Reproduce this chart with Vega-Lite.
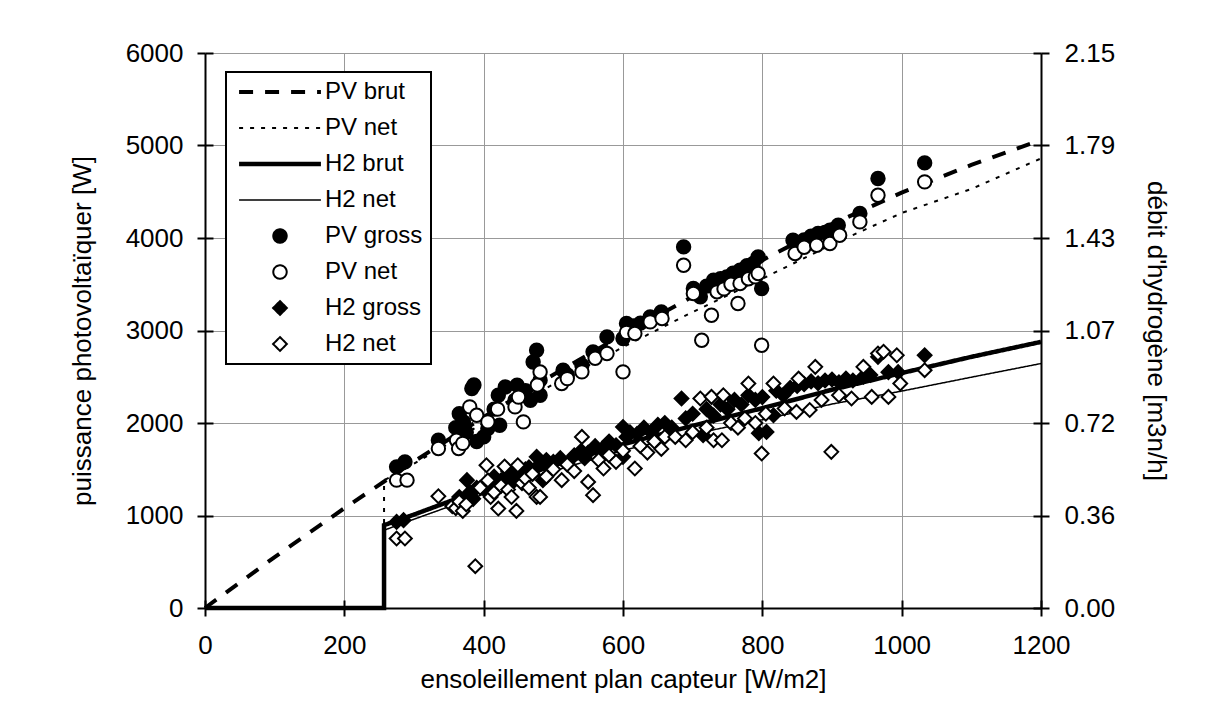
{
  "$schema": "https://vega.github.io/schema/vega-lite/v6.json",
  "width": 836,
  "height": 555,
  "autosize": {"type": "none"},
  "padding": {"left": 205, "top": 53, "right": 180, "bottom": 118},
  "background": "white",
  "datasets": {
    "lines": [
      {"g": "PV", "s": "PV brut", "k": 1, "x": 0, "y": 0},
      {"g": "PV", "s": "PV brut", "k": 2, "x": 100, "y": 551},
      {"g": "PV", "s": "PV brut", "k": 3, "x": 200, "y": 1079},
      {"g": "PV", "s": "PV brut", "k": 4, "x": 300, "y": 1584},
      {"g": "PV", "s": "PV brut", "k": 5, "x": 400, "y": 2064},
      {"g": "PV", "s": "PV brut", "k": 6, "x": 500, "y": 2522},
      {"g": "PV", "s": "PV brut", "k": 7, "x": 600, "y": 2956},
      {"g": "PV", "s": "PV brut", "k": 8, "x": 700, "y": 3367},
      {"g": "PV", "s": "PV brut", "k": 9, "x": 800, "y": 3760},
      {"g": "PV", "s": "PV brut", "k": 10, "x": 900, "y": 4150},
      {"g": "PV", "s": "PV brut", "k": 11, "x": 1000, "y": 4490},
      {"g": "PV", "s": "PV brut", "k": 12, "x": 1100, "y": 4790},
      {"g": "PV", "s": "PV brut", "k": 13, "x": 1200, "y": 5060},
      {"g": "PV", "s": "PV net ", "k": 1, "x": 0, "y": 0},
      {"g": "PV", "s": "PV net ", "k": 2, "x": 257, "y": 0},
      {"g": "PV", "s": "PV net ", "k": 3, "x": 257, "y": 1380},
      {"g": "PV", "s": "PV net ", "k": 4, "x": 300, "y": 1560},
      {"g": "PV", "s": "PV net ", "k": 5, "x": 400, "y": 2000},
      {"g": "PV", "s": "PV net ", "k": 6, "x": 500, "y": 2420},
      {"g": "PV", "s": "PV net ", "k": 7, "x": 600, "y": 2820},
      {"g": "PV", "s": "PV net ", "k": 8, "x": 700, "y": 3200},
      {"g": "PV", "s": "PV net ", "k": 9, "x": 800, "y": 3560},
      {"g": "PV", "s": "PV net ", "k": 10, "x": 900, "y": 3930},
      {"g": "PV", "s": "PV net ", "k": 11, "x": 1000, "y": 4270},
      {"g": "PV", "s": "PV net ", "k": 12, "x": 1100, "y": 4530},
      {"g": "PV", "s": "PV net ", "k": 13, "x": 1200, "y": 4860},
      {"g": "H2", "s": "H2 brut", "k": 1, "x": 0, "y": 0},
      {"g": "H2", "s": "H2 brut", "k": 2, "x": 257, "y": 0},
      {"g": "H2", "s": "H2 brut", "k": 3, "x": 257, "y": 895},
      {"g": "H2", "s": "H2 brut", "k": 4, "x": 300, "y": 1010},
      {"g": "H2", "s": "H2 brut", "k": 5, "x": 400, "y": 1290},
      {"g": "H2", "s": "H2 brut", "k": 6, "x": 500, "y": 1540},
      {"g": "H2", "s": "H2 brut", "k": 7, "x": 600, "y": 1770},
      {"g": "H2", "s": "H2 brut", "k": 8, "x": 700, "y": 1970},
      {"g": "H2", "s": "H2 brut", "k": 9, "x": 800, "y": 2160},
      {"g": "H2", "s": "H2 brut", "k": 10, "x": 900, "y": 2360},
      {"g": "H2", "s": "H2 brut", "k": 11, "x": 1000, "y": 2540},
      {"g": "H2", "s": "H2 brut", "k": 12, "x": 1100, "y": 2715},
      {"g": "H2", "s": "H2 brut", "k": 13, "x": 1200, "y": 2877},
      {"g": "H2", "s": "H2 net ", "k": 1, "x": 0, "y": 0},
      {"g": "H2", "s": "H2 net ", "k": 2, "x": 257, "y": 0},
      {"g": "H2", "s": "H2 net ", "k": 3, "x": 257, "y": 841},
      {"g": "H2", "s": "H2 net ", "k": 4, "x": 300, "y": 960},
      {"g": "H2", "s": "H2 net ", "k": 5, "x": 400, "y": 1230},
      {"g": "H2", "s": "H2 net ", "k": 6, "x": 500, "y": 1480},
      {"g": "H2", "s": "H2 net ", "k": 7, "x": 600, "y": 1705},
      {"g": "H2", "s": "H2 net ", "k": 8, "x": 700, "y": 1880},
      {"g": "H2", "s": "H2 net ", "k": 9, "x": 800, "y": 2035},
      {"g": "H2", "s": "H2 net ", "k": 10, "x": 900, "y": 2205},
      {"g": "H2", "s": "H2 net ", "k": 11, "x": 1000, "y": 2345},
      {"g": "H2", "s": "H2 net ", "k": 12, "x": 1100, "y": 2495},
      {"g": "H2", "s": "H2 net ", "k": 13, "x": 1200, "y": 2643}
    ],
    "pts": [
      {"g": "PV", "s": "PV gross", "x": 275, "y": 1526},
      {"g": "PV", "s": "PV gross", "x": 287, "y": 1580},
      {"g": "PV", "s": "PV gross", "x": 335, "y": 1814},
      {"g": "PV", "s": "PV gross", "x": 360, "y": 1950},
      {"g": "PV", "s": "PV gross", "x": 365, "y": 2100},
      {"g": "PV", "s": "PV gross", "x": 371, "y": 2012},
      {"g": "PV", "s": "PV gross", "x": 375, "y": 1900},
      {"g": "PV", "s": "PV gross", "x": 383, "y": 2373},
      {"g": "PV", "s": "PV gross", "x": 386, "y": 2410},
      {"g": "PV", "s": "PV gross", "x": 390, "y": 1800},
      {"g": "PV", "s": "PV gross", "x": 400, "y": 1850},
      {"g": "PV", "s": "PV gross", "x": 406, "y": 1941},
      {"g": "PV", "s": "PV gross", "x": 415, "y": 2150},
      {"g": "PV", "s": "PV gross", "x": 421, "y": 2300},
      {"g": "PV", "s": "PV gross", "x": 423, "y": 1976},
      {"g": "PV", "s": "PV gross", "x": 431, "y": 2390},
      {"g": "PV", "s": "PV gross", "x": 445, "y": 2246},
      {"g": "PV", "s": "PV gross", "x": 448, "y": 2409},
      {"g": "PV", "s": "PV gross", "x": 460, "y": 2350},
      {"g": "PV", "s": "PV gross", "x": 467, "y": 2246},
      {"g": "PV", "s": "PV gross", "x": 471, "y": 2660},
      {"g": "PV", "s": "PV gross", "x": 476, "y": 2787},
      {"g": "PV", "s": "PV gross", "x": 481, "y": 2463},
      {"g": "PV", "s": "PV gross", "x": 481, "y": 2300},
      {"g": "PV", "s": "PV gross", "x": 514, "y": 2571},
      {"g": "PV", "s": "PV gross", "x": 520, "y": 2520},
      {"g": "PV", "s": "PV gross", "x": 541, "y": 2625},
      {"g": "PV", "s": "PV gross", "x": 557, "y": 2769},
      {"g": "PV", "s": "PV gross", "x": 577, "y": 2931},
      {"g": "PV", "s": "PV gross", "x": 600, "y": 2913},
      {"g": "PV", "s": "PV gross", "x": 605, "y": 3076},
      {"g": "PV", "s": "PV gross", "x": 615, "y": 3050},
      {"g": "PV", "s": "PV gross", "x": 625, "y": 3080},
      {"g": "PV", "s": "PV gross", "x": 639, "y": 3147},
      {"g": "PV", "s": "PV gross", "x": 655, "y": 3201},
      {"g": "PV", "s": "PV gross", "x": 687, "y": 3904},
      {"g": "PV", "s": "PV gross", "x": 701, "y": 3454},
      {"g": "PV", "s": "PV gross", "x": 711, "y": 3364},
      {"g": "PV", "s": "PV gross", "x": 720, "y": 3480},
      {"g": "PV", "s": "PV gross", "x": 730, "y": 3544},
      {"g": "PV", "s": "PV gross", "x": 740, "y": 3560},
      {"g": "PV", "s": "PV gross", "x": 749, "y": 3580},
      {"g": "PV", "s": "PV gross", "x": 758, "y": 3620},
      {"g": "PV", "s": "PV gross", "x": 768, "y": 3652},
      {"g": "PV", "s": "PV gross", "x": 778, "y": 3700},
      {"g": "PV", "s": "PV gross", "x": 787, "y": 3724},
      {"g": "PV", "s": "PV gross", "x": 794, "y": 3796},
      {"g": "PV", "s": "PV gross", "x": 799, "y": 3454},
      {"g": "PV", "s": "PV gross", "x": 844, "y": 3976},
      {"g": "PV", "s": "PV gross", "x": 860, "y": 3980},
      {"g": "PV", "s": "PV gross", "x": 870, "y": 4020},
      {"g": "PV", "s": "PV gross", "x": 880, "y": 4050},
      {"g": "PV", "s": "PV gross", "x": 890, "y": 4060},
      {"g": "PV", "s": "PV gross", "x": 897, "y": 4084},
      {"g": "PV", "s": "PV gross", "x": 909, "y": 4138},
      {"g": "PV", "s": "PV gross", "x": 940, "y": 4265},
      {"g": "PV", "s": "PV gross", "x": 966, "y": 4643},
      {"g": "PV", "s": "PV gross", "x": 1033, "y": 4812},
      {"g": "PV", "s": "PV net", "x": 275, "y": 1382},
      {"g": "PV", "s": "PV net", "x": 290, "y": 1382},
      {"g": "PV", "s": "PV net", "x": 335, "y": 1724},
      {"g": "PV", "s": "PV net", "x": 361, "y": 1814},
      {"g": "PV", "s": "PV net", "x": 364, "y": 1724},
      {"g": "PV", "s": "PV net", "x": 370, "y": 1780},
      {"g": "PV", "s": "PV net", "x": 380, "y": 2174},
      {"g": "PV", "s": "PV net", "x": 390, "y": 2084},
      {"g": "PV", "s": "PV net", "x": 406, "y": 2012},
      {"g": "PV", "s": "PV net", "x": 420, "y": 2150},
      {"g": "PV", "s": "PV net", "x": 445, "y": 2174},
      {"g": "PV", "s": "PV net", "x": 450, "y": 2280},
      {"g": "PV", "s": "PV net", "x": 457, "y": 2012},
      {"g": "PV", "s": "PV net", "x": 477, "y": 2410},
      {"g": "PV", "s": "PV net", "x": 481, "y": 2552},
      {"g": "PV", "s": "PV net", "x": 512, "y": 2427},
      {"g": "PV", "s": "PV net", "x": 520, "y": 2480},
      {"g": "PV", "s": "PV net", "x": 541, "y": 2553},
      {"g": "PV", "s": "PV net", "x": 560, "y": 2700},
      {"g": "PV", "s": "PV net", "x": 577, "y": 2751},
      {"g": "PV", "s": "PV net", "x": 600, "y": 2553},
      {"g": "PV", "s": "PV net", "x": 605, "y": 2980},
      {"g": "PV", "s": "PV net", "x": 617, "y": 2968},
      {"g": "PV", "s": "PV net", "x": 639, "y": 3093},
      {"g": "PV", "s": "PV net", "x": 656, "y": 3129},
      {"g": "PV", "s": "PV net", "x": 687, "y": 3706},
      {"g": "PV", "s": "PV net", "x": 701, "y": 3400},
      {"g": "PV", "s": "PV net", "x": 713, "y": 2895},
      {"g": "PV", "s": "PV net", "x": 727, "y": 3165},
      {"g": "PV", "s": "PV net", "x": 735, "y": 3418},
      {"g": "PV", "s": "PV net", "x": 745, "y": 3450},
      {"g": "PV", "s": "PV net", "x": 755, "y": 3500},
      {"g": "PV", "s": "PV net", "x": 765, "y": 3292},
      {"g": "PV", "s": "PV net", "x": 768, "y": 3508},
      {"g": "PV", "s": "PV net", "x": 780, "y": 3560},
      {"g": "PV", "s": "PV net", "x": 790, "y": 3580},
      {"g": "PV", "s": "PV net", "x": 794, "y": 3616},
      {"g": "PV", "s": "PV net", "x": 799, "y": 2841},
      {"g": "PV", "s": "PV net", "x": 847, "y": 3832},
      {"g": "PV", "s": "PV net", "x": 860, "y": 3900},
      {"g": "PV", "s": "PV net", "x": 878, "y": 3922},
      {"g": "PV", "s": "PV net", "x": 897, "y": 3940},
      {"g": "PV", "s": "PV net", "x": 911, "y": 4030},
      {"g": "PV", "s": "PV net", "x": 940, "y": 4174},
      {"g": "PV", "s": "PV net", "x": 966, "y": 4462},
      {"g": "PV", "s": "PV net", "x": 1033, "y": 4607},
      {"g": "H2", "s": "H2 gross", "x": 275, "y": 931},
      {"g": "H2", "s": "H2 gross", "x": 285, "y": 950},
      {"g": "H2", "s": "H2 gross", "x": 360, "y": 1130},
      {"g": "H2", "s": "H2 gross", "x": 365, "y": 1200},
      {"g": "H2", "s": "H2 gross", "x": 370, "y": 1110},
      {"g": "H2", "s": "H2 gross", "x": 376, "y": 1382},
      {"g": "H2", "s": "H2 gross", "x": 380, "y": 1250},
      {"g": "H2", "s": "H2 gross", "x": 385, "y": 1180},
      {"g": "H2", "s": "H2 gross", "x": 390, "y": 1300},
      {"g": "H2", "s": "H2 gross", "x": 400, "y": 1290},
      {"g": "H2", "s": "H2 gross", "x": 405, "y": 1350},
      {"g": "H2", "s": "H2 gross", "x": 410, "y": 1250},
      {"g": "H2", "s": "H2 gross", "x": 415, "y": 1420},
      {"g": "H2", "s": "H2 gross", "x": 420, "y": 1300},
      {"g": "H2", "s": "H2 gross", "x": 425, "y": 1380},
      {"g": "H2", "s": "H2 gross", "x": 430, "y": 1390},
      {"g": "H2", "s": "H2 gross", "x": 435, "y": 1480},
      {"g": "H2", "s": "H2 gross", "x": 440, "y": 1350},
      {"g": "H2", "s": "H2 gross", "x": 445, "y": 1420},
      {"g": "H2", "s": "H2 gross", "x": 450, "y": 1460},
      {"g": "H2", "s": "H2 gross", "x": 455, "y": 1400},
      {"g": "H2", "s": "H2 gross", "x": 460, "y": 1500},
      {"g": "H2", "s": "H2 gross", "x": 465, "y": 1520},
      {"g": "H2", "s": "H2 gross", "x": 470, "y": 1450},
      {"g": "H2", "s": "H2 gross", "x": 476, "y": 1634},
      {"g": "H2", "s": "H2 gross", "x": 480, "y": 1550},
      {"g": "H2", "s": "H2 gross", "x": 485, "y": 1382},
      {"g": "H2", "s": "H2 gross", "x": 490, "y": 1600},
      {"g": "H2", "s": "H2 gross", "x": 500, "y": 1580},
      {"g": "H2", "s": "H2 gross", "x": 510, "y": 1620},
      {"g": "H2", "s": "H2 gross", "x": 520, "y": 1560},
      {"g": "H2", "s": "H2 gross", "x": 530, "y": 1650},
      {"g": "H2", "s": "H2 gross", "x": 540, "y": 1700},
      {"g": "H2", "s": "H2 gross", "x": 545, "y": 1620},
      {"g": "H2", "s": "H2 gross", "x": 550, "y": 1680},
      {"g": "H2", "s": "H2 gross", "x": 560, "y": 1750},
      {"g": "H2", "s": "H2 gross", "x": 570, "y": 1720},
      {"g": "H2", "s": "H2 gross", "x": 580, "y": 1800},
      {"g": "H2", "s": "H2 gross", "x": 590, "y": 1760},
      {"g": "H2", "s": "H2 gross", "x": 600, "y": 1634},
      {"g": "H2", "s": "H2 gross", "x": 600, "y": 1957},
      {"g": "H2", "s": "H2 gross", "x": 605, "y": 1850},
      {"g": "H2", "s": "H2 gross", "x": 610, "y": 1900},
      {"g": "H2", "s": "H2 gross", "x": 620, "y": 1880},
      {"g": "H2", "s": "H2 gross", "x": 630, "y": 1950},
      {"g": "H2", "s": "H2 gross", "x": 640, "y": 1900},
      {"g": "H2", "s": "H2 gross", "x": 650, "y": 1980},
      {"g": "H2", "s": "H2 gross", "x": 660, "y": 2000},
      {"g": "H2", "s": "H2 gross", "x": 670, "y": 1950},
      {"g": "H2", "s": "H2 gross", "x": 684, "y": 2265},
      {"g": "H2", "s": "H2 gross", "x": 690, "y": 2050},
      {"g": "H2", "s": "H2 gross", "x": 700, "y": 2100},
      {"g": "H2", "s": "H2 gross", "x": 715, "y": 1868},
      {"g": "H2", "s": "H2 gross", "x": 720, "y": 2150},
      {"g": "H2", "s": "H2 gross", "x": 730, "y": 2080},
      {"g": "H2", "s": "H2 gross", "x": 740, "y": 2200},
      {"g": "H2", "s": "H2 gross", "x": 750, "y": 2150},
      {"g": "H2", "s": "H2 gross", "x": 760, "y": 2250},
      {"g": "H2", "s": "H2 gross", "x": 770, "y": 2200},
      {"g": "H2", "s": "H2 gross", "x": 780, "y": 2300},
      {"g": "H2", "s": "H2 gross", "x": 790, "y": 2250},
      {"g": "H2", "s": "H2 gross", "x": 795, "y": 1890},
      {"g": "H2", "s": "H2 gross", "x": 800, "y": 2280},
      {"g": "H2", "s": "H2 gross", "x": 806, "y": 1904},
      {"g": "H2", "s": "H2 gross", "x": 816, "y": 2084},
      {"g": "H2", "s": "H2 gross", "x": 820, "y": 2350},
      {"g": "H2", "s": "H2 gross", "x": 830, "y": 2300},
      {"g": "H2", "s": "H2 gross", "x": 840, "y": 2380},
      {"g": "H2", "s": "H2 gross", "x": 850, "y": 2400},
      {"g": "H2", "s": "H2 gross", "x": 860, "y": 2420},
      {"g": "H2", "s": "H2 gross", "x": 870, "y": 2450},
      {"g": "H2", "s": "H2 gross", "x": 880, "y": 2430},
      {"g": "H2", "s": "H2 gross", "x": 890, "y": 2460},
      {"g": "H2", "s": "H2 gross", "x": 900, "y": 2470},
      {"g": "H2", "s": "H2 gross", "x": 910, "y": 2440},
      {"g": "H2", "s": "H2 gross", "x": 920, "y": 2480},
      {"g": "H2", "s": "H2 gross", "x": 930, "y": 2460},
      {"g": "H2", "s": "H2 gross", "x": 945, "y": 2500},
      {"g": "H2", "s": "H2 gross", "x": 955, "y": 2520},
      {"g": "H2", "s": "H2 gross", "x": 966, "y": 2715},
      {"g": "H2", "s": "H2 gross", "x": 981, "y": 2550},
      {"g": "H2", "s": "H2 gross", "x": 995, "y": 2550},
      {"g": "H2", "s": "H2 gross", "x": 1033, "y": 2733},
      {"g": "H2", "s": "H2 net", "x": 275, "y": 751},
      {"g": "H2", "s": "H2 net", "x": 287, "y": 751},
      {"g": "H2", "s": "H2 net", "x": 335, "y": 1208},
      {"g": "H2", "s": "H2 net", "x": 355, "y": 1100},
      {"g": "H2", "s": "H2 net", "x": 360, "y": 1080},
      {"g": "H2", "s": "H2 net", "x": 365, "y": 1150},
      {"g": "H2", "s": "H2 net", "x": 370, "y": 1050},
      {"g": "H2", "s": "H2 net", "x": 375, "y": 1120},
      {"g": "H2", "s": "H2 net", "x": 388, "y": 452},
      {"g": "H2", "s": "H2 net", "x": 395, "y": 1300},
      {"g": "H2", "s": "H2 net", "x": 404, "y": 1543},
      {"g": "H2", "s": "H2 net", "x": 406, "y": 1380},
      {"g": "H2", "s": "H2 net", "x": 410, "y": 1200},
      {"g": "H2", "s": "H2 net", "x": 415, "y": 1250},
      {"g": "H2", "s": "H2 net", "x": 421, "y": 1075},
      {"g": "H2", "s": "H2 net", "x": 425, "y": 1320},
      {"g": "H2", "s": "H2 net", "x": 430, "y": 1530},
      {"g": "H2", "s": "H2 net", "x": 435, "y": 1280},
      {"g": "H2", "s": "H2 net", "x": 440, "y": 1200},
      {"g": "H2", "s": "H2 net", "x": 447, "y": 1050},
      {"g": "H2", "s": "H2 net", "x": 449, "y": 1543},
      {"g": "H2", "s": "H2 net", "x": 455, "y": 1350},
      {"g": "H2", "s": "H2 net", "x": 460, "y": 1400},
      {"g": "H2", "s": "H2 net", "x": 465, "y": 1300},
      {"g": "H2", "s": "H2 net", "x": 470, "y": 1450},
      {"g": "H2", "s": "H2 net", "x": 476, "y": 1201},
      {"g": "H2", "s": "H2 net", "x": 481, "y": 1201},
      {"g": "H2", "s": "H2 net", "x": 490, "y": 1420},
      {"g": "H2", "s": "H2 net", "x": 500, "y": 1500},
      {"g": "H2", "s": "H2 net", "x": 512, "y": 1382},
      {"g": "H2", "s": "H2 net", "x": 520, "y": 1550},
      {"g": "H2", "s": "H2 net", "x": 530, "y": 1480},
      {"g": "H2", "s": "H2 net", "x": 541, "y": 1850},
      {"g": "H2", "s": "H2 net", "x": 550, "y": 1363},
      {"g": "H2", "s": "H2 net", "x": 557, "y": 1220},
      {"g": "H2", "s": "H2 net", "x": 565, "y": 1600},
      {"g": "H2", "s": "H2 net", "x": 572, "y": 1508},
      {"g": "H2", "s": "H2 net", "x": 580, "y": 1650},
      {"g": "H2", "s": "H2 net", "x": 590, "y": 1580},
      {"g": "H2", "s": "H2 net", "x": 600, "y": 1700},
      {"g": "H2", "s": "H2 net", "x": 617, "y": 1508},
      {"g": "H2", "s": "H2 net", "x": 625, "y": 1750},
      {"g": "H2", "s": "H2 net", "x": 635, "y": 1680},
      {"g": "H2", "s": "H2 net", "x": 645, "y": 1800},
      {"g": "H2", "s": "H2 net", "x": 655, "y": 1720},
      {"g": "H2", "s": "H2 net", "x": 660, "y": 1850},
      {"g": "H2", "s": "H2 net", "x": 675, "y": 1850},
      {"g": "H2", "s": "H2 net", "x": 690, "y": 1814},
      {"g": "H2", "s": "H2 net", "x": 700, "y": 1900},
      {"g": "H2", "s": "H2 net", "x": 711, "y": 2265},
      {"g": "H2", "s": "H2 net", "x": 720, "y": 1950},
      {"g": "H2", "s": "H2 net", "x": 727, "y": 2283},
      {"g": "H2", "s": "H2 net", "x": 730, "y": 1814},
      {"g": "H2", "s": "H2 net", "x": 742, "y": 1814},
      {"g": "H2", "s": "H2 net", "x": 744, "y": 2300},
      {"g": "H2", "s": "H2 net", "x": 755, "y": 2000},
      {"g": "H2", "s": "H2 net", "x": 765, "y": 1950},
      {"g": "H2", "s": "H2 net", "x": 775, "y": 2050},
      {"g": "H2", "s": "H2 net", "x": 780, "y": 2427},
      {"g": "H2", "s": "H2 net", "x": 790, "y": 2000},
      {"g": "H2", "s": "H2 net", "x": 799, "y": 1670},
      {"g": "H2", "s": "H2 net", "x": 805, "y": 2100},
      {"g": "H2", "s": "H2 net", "x": 816, "y": 2427},
      {"g": "H2", "s": "H2 net", "x": 832, "y": 2157},
      {"g": "H2", "s": "H2 net", "x": 849, "y": 2120},
      {"g": "H2", "s": "H2 net", "x": 852, "y": 2480},
      {"g": "H2", "s": "H2 net", "x": 868, "y": 2140},
      {"g": "H2", "s": "H2 net", "x": 876, "y": 2607},
      {"g": "H2", "s": "H2 net", "x": 885, "y": 2250},
      {"g": "H2", "s": "H2 net", "x": 899, "y": 1688},
      {"g": "H2", "s": "H2 net", "x": 910, "y": 2300},
      {"g": "H2", "s": "H2 net", "x": 928, "y": 2265},
      {"g": "H2", "s": "H2 net", "x": 945, "y": 2607},
      {"g": "H2", "s": "H2 net", "x": 957, "y": 2282},
      {"g": "H2", "s": "H2 net", "x": 966, "y": 2751},
      {"g": "H2", "s": "H2 net", "x": 974, "y": 2770},
      {"g": "H2", "s": "H2 net", "x": 981, "y": 2282},
      {"g": "H2", "s": "H2 net", "x": 993, "y": 2733},
      {"g": "H2", "s": "H2 net", "x": 998, "y": 2427},
      {"g": "H2", "s": "H2 net", "x": 1033, "y": 2571}
    ]
  },
  "resolve": {"axis": {"x": "independent", "y": "independent"}},
  "layer": [
    {
      "data": {"name": "lines"},
      "transform": [{"filter": {"field": "g", "equal": "PV"}}],
      "mark": {"type": "line", "strokeCap": "butt"},
      "encoding": {
        "x": {"field": "x", "type": "quantitative", "scale": {"domain": [0, 1200], "nice": false, "zero": false},
          "axis": {"orient": "bottom", "values": [0, 200, 400, 600, 800, 1000, 1200], "format": "d", "grid": true, "labelFlush": false, "labelPadding": 16, "titlePadding": 8, "title": "ensoleillement plan capteur [W/m2]"}},
        "y": {"field": "y", "type": "quantitative", "scale": {"domain": [0, 6000], "nice": false, "zero": false},
          "axis": {"orient": "left", "values": [0, 1000, 2000, 3000, 4000, 5000, 6000], "format": "d", "grid": true, "labelFlush": false, "labelPadding": 14, "titlePadding": 30, "title": "puissance photovoltaïquer [W]"}},
        "stroke": {"field": "s", "type": "nominal",
          "scale": {"domain": ["PV brut", "PV net ", "H2 brut", "H2 net ", "PV gross", "PV net", "H2 gross", "H2 net"], "range": ["black", "black", "black", "black", "black", "black", "black", "black"]},
          "legend": {"title": null, "orient": "none", "legendX": 21, "legendY": 19}},
        "strokeDash": {"field": "s", "type": "nominal",
          "scale": {"domain": ["PV brut", "PV net ", "H2 brut", "H2 net ", "PV gross", "PV net", "H2 gross", "H2 net"], "range": [[14, 12], [4, 7], [1, 0], [1, 0], [1, 0], [1, 0], [1, 0], [1, 0]]},
          "legend": {"title": null, "orient": "none", "legendX": 21, "legendY": 19}},
        "strokeWidth": {"field": "s", "type": "nominal",
          "scale": {"type": "ordinal", "domain": ["PV brut", "PV net ", "H2 brut", "H2 net ", "PV gross", "PV net", "H2 gross", "H2 net"], "range": [4, 2, 4.5, 1.5, 2, 2, 2, 2]},
          "legend": {"title": null, "orient": "none", "legendX": 21, "legendY": 19}},
        "order": {"field": "k", "type": "quantitative"}
      }
    },
    {
      "data": {"name": "lines"},
      "transform": [{"filter": {"field": "g", "equal": "H2"}}],
      "mark": {"type": "line", "strokeCap": "butt"},
      "encoding": {
        "x": {"field": "x", "type": "quantitative", "scale": {"domain": [0, 1200], "nice": false, "zero": false},
          "axis": {"orient": "bottom", "offset": -8, "values": [0, 200, 400, 600, 800, 1000, 1200], "domain": false, "labels": false, "grid": false, "title": null}},
        "y": {"field": "y", "type": "quantitative", "scale": {"domain": [0, 6000], "nice": false, "zero": false},
          "axis": {"orient": "left", "offset": -8, "values": [0, 1000, 2000, 3000, 4000, 5000, 6000], "domain": false, "labels": false, "grid": false, "title": null}},
        "stroke": {"field": "s", "type": "nominal",
          "scale": {"domain": ["PV brut", "PV net ", "H2 brut", "H2 net ", "PV gross", "PV net", "H2 gross", "H2 net"], "range": ["black", "black", "black", "black", "black", "black", "black", "black"]},
          "legend": {"title": null, "orient": "none", "legendX": 21, "legendY": 19}},
        "strokeDash": {"field": "s", "type": "nominal",
          "scale": {"domain": ["PV brut", "PV net ", "H2 brut", "H2 net ", "PV gross", "PV net", "H2 gross", "H2 net"], "range": [[14, 12], [4, 7], [1, 0], [1, 0], [1, 0], [1, 0], [1, 0], [1, 0]]},
          "legend": {"title": null, "orient": "none", "legendX": 21, "legendY": 19}},
        "strokeWidth": {"field": "s", "type": "nominal",
          "scale": {"type": "ordinal", "domain": ["PV brut", "PV net ", "H2 brut", "H2 net ", "PV gross", "PV net", "H2 gross", "H2 net"], "range": [4, 2, 4.5, 1.5, 2, 2, 2, 2]},
          "legend": {"title": null, "orient": "none", "legendX": 21, "legendY": 19}},
        "order": {"field": "k", "type": "quantitative"}
      }
    },
    {
      "data": {"name": "pts"},
      "transform": [{"filter": {"field": "g", "equal": "PV"}}],
      "mark": {"type": "point", "strokeWidth": 2, "opacity": 1},
      "encoding": {
        "x": {"field": "x", "type": "quantitative", "scale": {"domain": [0, 1200], "nice": false, "zero": false}, "axis": null},
        "y": {"field": "y", "type": "quantitative", "scale": {"domain": [0, 6000], "nice": false, "zero": false},
          "axis": {"orient": "right", "values": [0, 1000, 2000, 3000, 4000, 5000, 6000], "labelExpr": "['0.00','0.36','0.72','1.07','1.43','1.79','2.15'][round(datum.value/1000)]", "grid": false, "labelFlush": false, "labelPadding": 15, "titlePadding": 28, "title": "débit d'hydrogène [m3n/h]"}},
        "stroke": {"field": "s", "type": "nominal",
          "scale": {"domain": ["PV brut", "PV net ", "H2 brut", "H2 net ", "PV gross", "PV net", "H2 gross", "H2 net"], "range": ["black", "black", "black", "black", "black", "black", "black", "black"]},
          "legend": {"title": null, "orient": "none", "legendX": 21, "legendY": 19}},
        "shape": {"field": "s", "type": "nominal",
          "scale": {"domain": ["PV brut", "PV net ", "H2 brut", "H2 net ", "PV gross", "PV net", "H2 gross", "H2 net"], "range": ["M-6.1,0H6.1", "M-6.1,0H6.1", "M-6.1,0H6.1", "M-6.1,0H6.1", "circle", "circle", "diamond", "diamond"]},
          "legend": {"title": null, "orient": "none", "legendX": 21, "legendY": 19}},
        "fill": {"field": "s", "type": "nominal",
          "scale": {"domain": ["PV brut", "PV net ", "H2 brut", "H2 net ", "PV gross", "PV net", "H2 gross", "H2 net"], "range": ["black", "black", "black", "black", "black", "white", "black", "white"]},
          "legend": {"title": null, "orient": "none", "legendX": 21, "legendY": 19}},
        "size": {"field": "s", "type": "nominal",
          "scale": {"type": "ordinal", "domain": ["PV brut", "PV net ", "H2 brut", "H2 net ", "PV gross", "PV net", "H2 gross", "H2 net"], "range": [180, 180, 180, 180, 180, 180, 190, 190]},
          "legend": {"title": null, "orient": "none", "legendX": 21, "legendY": 19}}
      }
    },
    {
      "data": {"name": "pts"},
      "transform": [{"filter": {"field": "g", "equal": "H2"}}],
      "mark": {"type": "point", "strokeWidth": 2, "opacity": 1},
      "encoding": {
        "x": {"field": "x", "type": "quantitative", "scale": {"domain": [0, 1200], "nice": false, "zero": false}, "axis": null},
        "y": {"field": "y", "type": "quantitative", "scale": {"domain": [0, 6000], "nice": false, "zero": false},
          "axis": {"orient": "right", "offset": -8, "values": [0, 1000, 2000, 3000, 4000, 5000, 6000], "domain": false, "labels": false, "grid": false, "title": null}},
        "stroke": {"field": "s", "type": "nominal",
          "scale": {"domain": ["PV brut", "PV net ", "H2 brut", "H2 net ", "PV gross", "PV net", "H2 gross", "H2 net"], "range": ["black", "black", "black", "black", "black", "black", "black", "black"]},
          "legend": {"title": null, "orient": "none", "legendX": 21, "legendY": 19}},
        "shape": {"field": "s", "type": "nominal",
          "scale": {"domain": ["PV brut", "PV net ", "H2 brut", "H2 net ", "PV gross", "PV net", "H2 gross", "H2 net"], "range": ["M-6.1,0H6.1", "M-6.1,0H6.1", "M-6.1,0H6.1", "M-6.1,0H6.1", "circle", "circle", "diamond", "diamond"]},
          "legend": {"title": null, "orient": "none", "legendX": 21, "legendY": 19}},
        "fill": {"field": "s", "type": "nominal",
          "scale": {"domain": ["PV brut", "PV net ", "H2 brut", "H2 net ", "PV gross", "PV net", "H2 gross", "H2 net"], "range": ["black", "black", "black", "black", "black", "white", "black", "white"]},
          "legend": {"title": null, "orient": "none", "legendX": 21, "legendY": 19}},
        "size": {"field": "s", "type": "nominal",
          "scale": {"type": "ordinal", "domain": ["PV brut", "PV net ", "H2 brut", "H2 net ", "PV gross", "PV net", "H2 gross", "H2 net"], "range": [180, 180, 180, 180, 180, 180, 190, 190]},
          "legend": {"title": null, "orient": "none", "legendX": 21, "legendY": 19}}
      }
    }
  ],
  "config": {
    "font": "Liberation Sans",
    "view": {"stroke": null},
    "axis": {
      "labelFont": "Liberation Sans", "labelFontSize": 26, "labelColor": "black",
      "titleFont": "Liberation Sans", "titleFontSize": 26, "titleFontWeight": "normal", "titleColor": "black",
      "domainColor": "black", "domainWidth": 2, "tickColor": "black", "tickWidth": 2, "tickSize": 8,
      "gridColor": "#999999", "gridWidth": 1, "labelOverlap": false
    },
    "legend": {
      "labelFont": "Liberation Sans", "labelFontSize": 24, "labelColor": "black",
      "strokeColor": "black", "strokeWidth": 2, "fillColor": "white", "padding": 8,
      "symbolOffset": 34, "labelOffset": 33, "rowPadding": 12, "symbolStrokeColor": "black"
    }
  }
}
